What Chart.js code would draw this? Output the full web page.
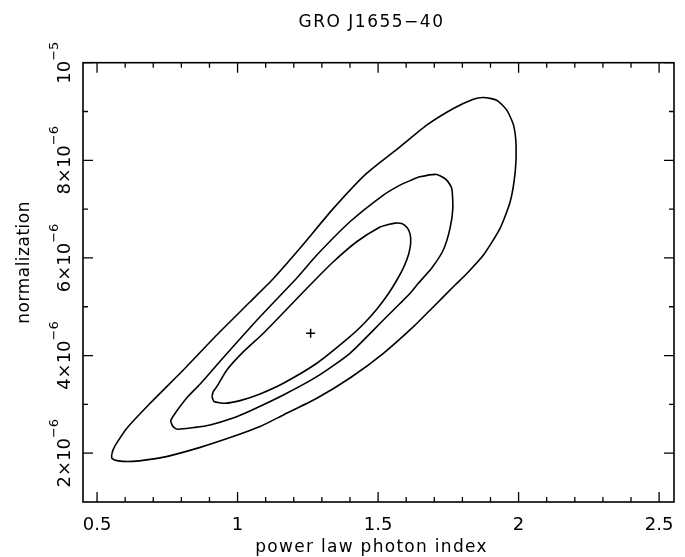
<!DOCTYPE html>
<html>
<head>
<meta charset="utf-8">
<script src="https://cdn.jsdelivr.net/npm/chart.js@4/dist/chart.umd.min.js"></script>
<style>
  html, body { margin: 0; padding: 0; background: #fff; }
  #wrap { width: 685px; height: 557px; }
</style>
</head>
<body>
<div id="wrap"><canvas id="c" width="685" height="557"></canvas></div>
<script>
// ---- data ----
const chartTitle = 'GRO J1655\u221240';
const xAxisTitle = 'power law photon index';
const yAxisTitle = 'normalization';

const xMin = 0.45, xMax = 2.553;
const yMin = 1e-6, yMax = 1e-5;

const xTickValues = [0.5, 1, 1.5, 2, 2.5];
const xTickLabels = ['0.5', '1', '1.5', '2', '2.5'];
const xMinorStep = 0.1;

const yTickValues = [2e-6, 4e-6, 6e-6, 8e-6, 1e-5];
const yTickBase = ['2\u00d710', '4\u00d710', '6\u00d710', '8\u00d710', '10'];
const yTickExp = ['\u22126', '\u22126', '\u22126', '\u22126', '\u22125'];
const yMinorStep = 1e-6;

// best fit
const bestGamma = [1.26];
const bestNorm = [4.456e-6];

// outer contour
const outerGamma = [0.552,0.553,0.575,0.628,0.689,0.747,0.867,0.984,1.080,1.163,1.282,1.400,1.519,1.626,1.697,1.774,1.816,1.875,1.934,1.970,1.988,1.991,1.982,1.958,1.922,1.875,1.839,1.768,1.673,1.578,1.460,1.341,1.222,1.126,1.044,0.926,0.807,0.689,0.606,0.568,0.557,0.552];
const outerNorm = [1.965e-6,1.894e-6,1.842e-6,1.832e-6,1.873e-6,1.930e-6,2.119e-6,2.340e-6,2.545e-6,2.784e-6,3.126e-6,3.541e-6,4.047e-6,4.592e-6,5.001e-6,5.445e-6,5.681e-6,6.059e-6,6.606e-6,7.150e-6,7.765e-6,8.311e-6,8.721e-6,9.028e-6,9.232e-6,9.288e-6,9.253e-6,9.062e-6,8.721e-6,8.276e-6,7.738e-6,7.015e-6,6.197e-6,5.568e-6,5.097e-6,4.422e-6,3.705e-6,3.024e-6,2.512e-6,2.190e-6,2.068e-6,1.965e-6];

// middle contour
const middleGamma = [0.763,0.770,0.786,0.849,0.902,0.984,1.044,1.163,1.282,1.400,1.519,1.578,1.614,1.644,1.691,1.732,1.756,1.766,1.762,1.744,1.709,1.649,1.614,1.578,1.519,1.400,1.282,1.211,1.080,0.948,0.867,0.819,0.781,0.763,0.763];
const middleNorm = [2.631e-6,2.549e-6,2.491e-6,2.528e-6,2.579e-6,2.723e-6,2.866e-6,3.193e-6,3.568e-6,4.047e-6,4.729e-6,5.066e-6,5.275e-6,5.486e-6,5.793e-6,6.162e-6,6.606e-6,7.015e-6,7.425e-6,7.595e-6,7.711e-6,7.662e-6,7.584e-6,7.492e-6,7.288e-6,6.741e-6,6.059e-6,5.589e-6,4.796e-6,3.951e-6,3.419e-6,3.132e-6,2.845e-6,2.682e-6,2.631e-6];

// inner contour
const innerGamma = [0.909,0.916,0.956,1.009,1.080,1.163,1.282,1.400,1.450,1.496,1.536,1.568,1.593,1.609,1.616,1.614,1.603,1.584,1.561,1.536,1.507,1.424,1.341,1.258,1.092,1.021,0.962,0.926,0.913,0.909];
const innerNorm = [3.153e-6,3.060e-6,3.024e-6,3.077e-6,3.214e-6,3.433e-6,3.842e-6,4.387e-6,4.657e-6,4.954e-6,5.261e-6,5.558e-6,5.834e-6,6.080e-6,6.305e-6,6.489e-6,6.622e-6,6.704e-6,6.714e-6,6.684e-6,6.633e-6,6.332e-6,5.922e-6,5.445e-6,4.456e-6,4.080e-6,3.705e-6,3.363e-6,3.255e-6,3.153e-6];

// ---- build ----
const toPts = (xs, ys) => xs.map((x, i) => ({ x: x, y: ys[i] }));
const FONT = '"DejaVu Sans", sans-serif';
const INK = '#000';

function contour(label, xs, ys) {
  return {
    label: label, data: toPts(xs, ys), showLine: true, borderColor: INK,
    borderWidth: 1.6, pointRadius: 0, tension: 0.2, fill: false
  };
}

function near(v, list) {
  return list.some(m => Math.abs(m - v) <= Math.abs(m) * 1e-6);
}

const framePlugin = {
  id: 'frame',
  afterDatasetsDraw(chart) {
    const { ctx, chartArea: a } = chart;
    const xs = chart.scales.x, ys = chart.scales.y;
    ctx.save();
    ctx.strokeStyle = INK;
    ctx.lineWidth = 1.6;
    ctx.strokeRect(a.left, a.top, a.right - a.left, a.bottom - a.top);
    ctx.lineWidth = 1.3;
    ctx.beginPath();
    for (let k = 0; ; k++) {
      const v = +(0.5 + k * xMinorStep).toFixed(6);
      if (v > xMax) break;
      const px = xs.getPixelForValue(v);
      const len = near(v, xTickValues) ? 10 : 5;
      ctx.moveTo(px, a.bottom); ctx.lineTo(px, a.bottom - len);
      ctx.moveTo(px, a.top); ctx.lineTo(px, a.top + len);
    }
    for (let k = 2; ; k++) {
      const v = +(k * yMinorStep).toPrecision(6);
      if (v > yMax * 1.0001) break;
      const py = ys.getPixelForValue(v);
      const len = near(v, yTickValues) ? 10 : 5;
      ctx.moveTo(a.left, py); ctx.lineTo(a.left + len, py);
      ctx.moveTo(a.right, py); ctx.lineTo(a.right - len, py);
    }
    ctx.stroke();

    // y tick labels: rotated, with superscript exponent
    ctx.fillStyle = INK;
    const baseFont = '18px ' + FONT, expFont = '13px ' + FONT;
    const baselineX = 70, raise = 12;
    yTickValues.forEach((v, i) => {
      const py = ys.getPixelForValue(v);
      ctx.font = baseFont; const bw = ctx.measureText(yTickBase[i]).width;
      ctx.font = expFont; const ew = ctx.measureText(yTickExp[i]).width;
      const total = bw + ew;
      ctx.save();
      ctx.translate(baselineX, py);
      ctx.rotate(-Math.PI / 2);
      ctx.textAlign = 'left'; ctx.textBaseline = 'alphabetic';
      ctx.font = baseFont; ctx.fillText(yTickBase[i], -total / 2, 0);
      ctx.font = expFont; ctx.fillText(yTickExp[i], -total / 2 + bw, -raise);
      ctx.restore();
    });

    // titles
    const cx = (a.left + a.right) / 2 - 7;
    ctx.textAlign = 'center'; ctx.textBaseline = 'alphabetic';
    ctx.font = '17px ' + FONT;
    ctx.letterSpacing = '1.5px';
    ctx.fillText(chartTitle, cx, 27);
    ctx.letterSpacing = '1.3px';
    ctx.fillText(xAxisTitle, cx, 552);
    ctx.letterSpacing = '0.5px';
    ctx.save();
    ctx.translate(29, (a.top + a.bottom) / 2 - 20);
    ctx.rotate(-Math.PI / 2);
    ctx.fillText(yAxisTitle, 0, 0);
    ctx.restore();
    ctx.letterSpacing = '0px';
    ctx.restore();
  }
};

new Chart(document.getElementById('c'), {
  type: 'scatter',
  data: {
    datasets: [
      contour('outer', outerGamma, outerNorm),
      contour('middle', middleGamma, middleNorm),
      contour('inner', innerGamma, innerNorm),
      {
        label: 'best fit', data: toPts(bestGamma, bestNorm), showLine: false,
        pointStyle: 'cross', pointRadius: 4.5, borderColor: INK, borderWidth: 1.5,
        backgroundColor: INK
      }
    ]
  },
  options: {
    responsive: false,
    animation: false,
    devicePixelRatio: 1,
    layout: { padding: { left: 0, right: 11, top: 62.7, bottom: 0 } },
    plugins: {
      legend: { display: false },
      tooltip: { enabled: false },
      title: { display: false }
    },
    scales: {
      x: {
        type: 'linear', position: 'bottom', min: xMin, max: xMax,
        afterBuildTicks: s => { s.ticks = xTickValues.map(v => ({ value: v })); },
        afterFit: s => { s.height = 55; },
        grid: { display: false }, border: { display: false },
        ticks: {
          callback: (v, i) => xTickLabels[i], color: INK, padding: 5,
          maxRotation: 0, autoSkip: false,
          font: { family: FONT, size: 18 }
        },
        title: { display: false, text: xAxisTitle }
      },
      y: {
        type: 'linear', position: 'left', min: yMin, max: yMax,
        afterBuildTicks: s => { s.ticks = yTickValues.map(v => ({ value: v })); },
        afterFit: s => { s.width = 83; },
        grid: { display: false }, border: { display: false },
        ticks: { display: false },
        title: { display: false, text: yAxisTitle }
      }
    }
  },
  plugins: [framePlugin]
});
</script>
</body>
</html>
